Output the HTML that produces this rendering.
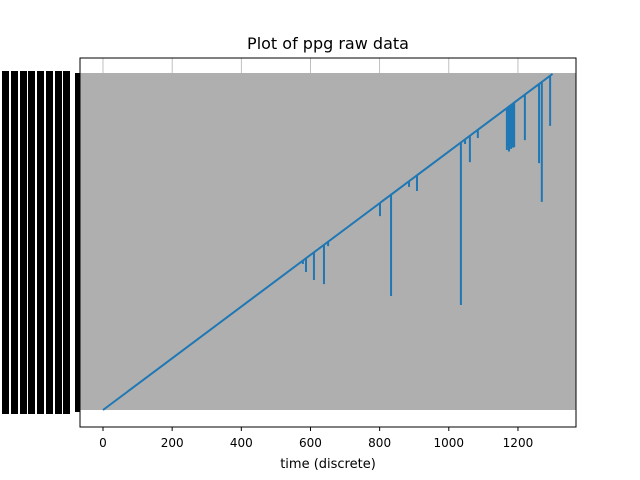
<!DOCTYPE html>
<html><head><meta charset="utf-8"><style>body{margin:0;background:#fff}svg{display:block;font-family:"DejaVu Sans","Liberation Sans",sans-serif}</style></head>
<body>
<svg id="c" width="640" height="480">
<text x="328" y="49" font-size="16" text-anchor="middle">Plot of ppg raw data</text>
<g id="ylab"></g>
<rect x="80" y="73" width="496" height="337" fill="#afafaf"/>
<g id="grid"></g>
<g id="series"></g>
<rect x="80" y="58" width="496" height="369" fill="none" stroke="#000" stroke-width="1"/>
<g id="xt"></g>
<text x="328" y="468" font-size="13" text-anchor="middle">time (discrete)</text>
</svg>
<script>
const xTicks=[0,200,400,600,800,1000,1200];
const spikeTimes=[578,587,610,639,651,801,833,885,908,1035,1047,1061,1084,1168,1171,1174,1177,1180,1183,1186,1189,1220,1261,1269,1293];
const spikeBottoms=[565,534,503,487,634,750,441,863,847,406,1029,959,1052,1006,1020,1000,1029,1010,1020,1015,1017,1044,955,805,1099];
const tMax=1300;
const NS="http://www.w3.org/2000/svg";
const X=t=>103+t*0.3458, Y=v=>410-v*0.2585;
function mk(tag,attrs,parent){const e=document.createElementNS(NS,tag);for(const k in attrs)e.setAttribute(k,attrs[k]);parent.appendChild(e);return e;}
const grid=document.getElementById('grid'),xt=document.getElementById('xt');
xTicks.forEach(t=>{
  const g=mk('line',{x1:X(t),x2:X(t),y1:58,y2:73,stroke:'#b0b0b0','stroke-width':0.8},grid);
  
  
  const tk=mk('line',{x1:X(t),x2:X(t),y1:427,y2:431,stroke:'#000'},xt);
  
  
  const tx=mk('text',{x:X(t),y:447,'font-size':12,'text-anchor':'middle'},xt);
  tx.textContent=t;
  
  
});
const yl=document.getElementById('ylab');
[2,11,20,28,37,46,55,63].forEach(x=>{
  const r=mk('rect',{x:x,y:71,width:7,height:343,fill:'#000'},yl);
  
  
});
const r2=mk('rect',{x:75,y:73,width:5,height:339,fill:'#000'},yl);


let pts=[[X(0),Y(0)]];
spikeTimes.forEach((t,i)=>{pts.push([X(t),Y(t)],[X(t),Y(spikeBottoms[i])],[X(t),Y(t)]);});
pts.push([X(tMax),Y(tMax)]);
const pl=mk('polyline',{points:pts.map(p=>p.join(',')).join(' '),fill:'none',stroke:'#1f77b4','stroke-width':2},document.getElementById('series'));


</script>
</body></html>
